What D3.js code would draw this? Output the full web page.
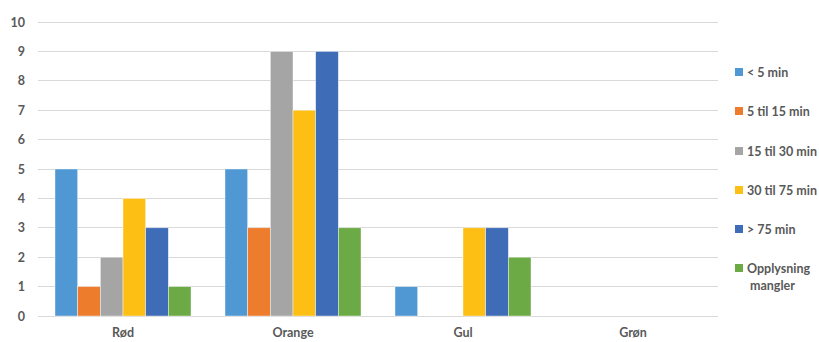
<!DOCTYPE html>
<html><head><meta charset="utf-8">
<script src="https://cdn.jsdelivr.net/npm/d3@7"></script>
<style>body{margin:0;background:#fff}svg{display:block}text{font-family:Lato,"Open Sans",sans-serif;font-weight:bold;fill:#595959;font-size:12.5px}</style>
</head><body><svg id="c" width="819" height="342"></svg>
<script>
const categories = ["Rød", "Orange", "Gul", "Grøn"];
const seriesNames = ["< 5 min", "5 til 15 min", "15 til 30 min", "30 til 75 min", "> 75 min", "Opplysning mangler"];
const seriesColors = ["#5098D3", "#EE7C2D", "#A5A5A5", "#FDBF13", "#3E6CB7", "#6CAA45"];
const lt5 = [5, 5, 1, 0];
const t5to15 = [1, 3, 0, 0];
const t15to30 = [2, 9, 0, 0];
const t30to75 = [4, 7, 3, 0];
const gt75 = [3, 9, 3, 0];
const missing = [1, 3, 2, 0];
const yTicks = [0,1,2,3,4,5,6,7,8,9,10];
const series = [lt5, t5to15, t15to30, t30to75, gt75, missing];

(function(){
const svg = d3.select("#c");
const mLeft = 38, mRight = 718, mTop = 22, mBottom = 316;
const x = d3.scaleBand().domain(categories).range([mLeft, mRight]).paddingInner(0.2).paddingOuter(0.1);
const y = d3.scaleLinear().domain([0, 10]).range([mBottom, mTop]);
const xs = d3.scaleBand().domain(d3.range(seriesNames.length)).range([0, x.bandwidth()]);

svg.append("g").selectAll("line").data(yTicks).join("line")
  .attr("x1", mLeft).attr("x2", mRight)
  .attr("y1", d => y(d)).attr("y2", d => y(d))
  .attr("stroke", "#D9D9D9").attr("stroke-width", 1).attr("shape-rendering","crispEdges");

const ya = svg.append("g").attr("transform", `translate(${mLeft},0)`)
  .call(d3.axisLeft(y).tickValues(yTicks).tickSize(0).tickPadding(13));
ya.select(".domain").remove();
ya.selectAll("text").style("font-size","12.5px").attr("fill","#595959").style("font-family","Lato,sans-serif").style("font-weight","bold");

categories.forEach((c, ci) => {
  svg.append("g").selectAll("rect").data(series.map((s, si) => ({si, v: s[ci]})).filter(d => d.v > 0)).join("rect")
    .attr("x", d => x(c) + xs(d.si))
    .attr("width", xs.bandwidth())
    .attr("y", d => y(d.v))
    .attr("height", d => y(0) - y(d.v))
    .attr("fill", d => seriesColors[d.si])
    .attr("stroke", "#ffffff").attr("stroke-width", 0.6).attr("stroke-opacity", 0.7);
});

const xa = svg.append("g").attr("transform", `translate(0,${mBottom})`)
  .call(d3.axisBottom(x).tickSize(0).tickPadding(12));
xa.select(".domain").remove();
xa.selectAll("text").style("font-size","12.5px").attr("fill","#595959").style("font-family","Lato,sans-serif").style("font-weight","bold");

const lg = svg.append("g");
const ly = [72, 111, 151, 190, 229, 268];
seriesNames.forEach((n, i) => {
  lg.append("rect").attr("x", 735).attr("y", ly[i] - 4).attr("width", 8).attr("height", 8).attr("fill", seriesColors[i]);
  if (n === "Opplysning mangler") {
    const t = lg.append("text").attr("x", 747).attr("y", ly[i] + 4.5);
    t.append("tspan").attr("x", 747).text("Opplysning");
    t.append("tspan").attr("x", 750).attr("dy", 17).text("mangler");
  } else {
    lg.append("text").attr("x", 747).attr("y", ly[i] + 4.5).text(n);
  }
});
})();
</script></body></html>
